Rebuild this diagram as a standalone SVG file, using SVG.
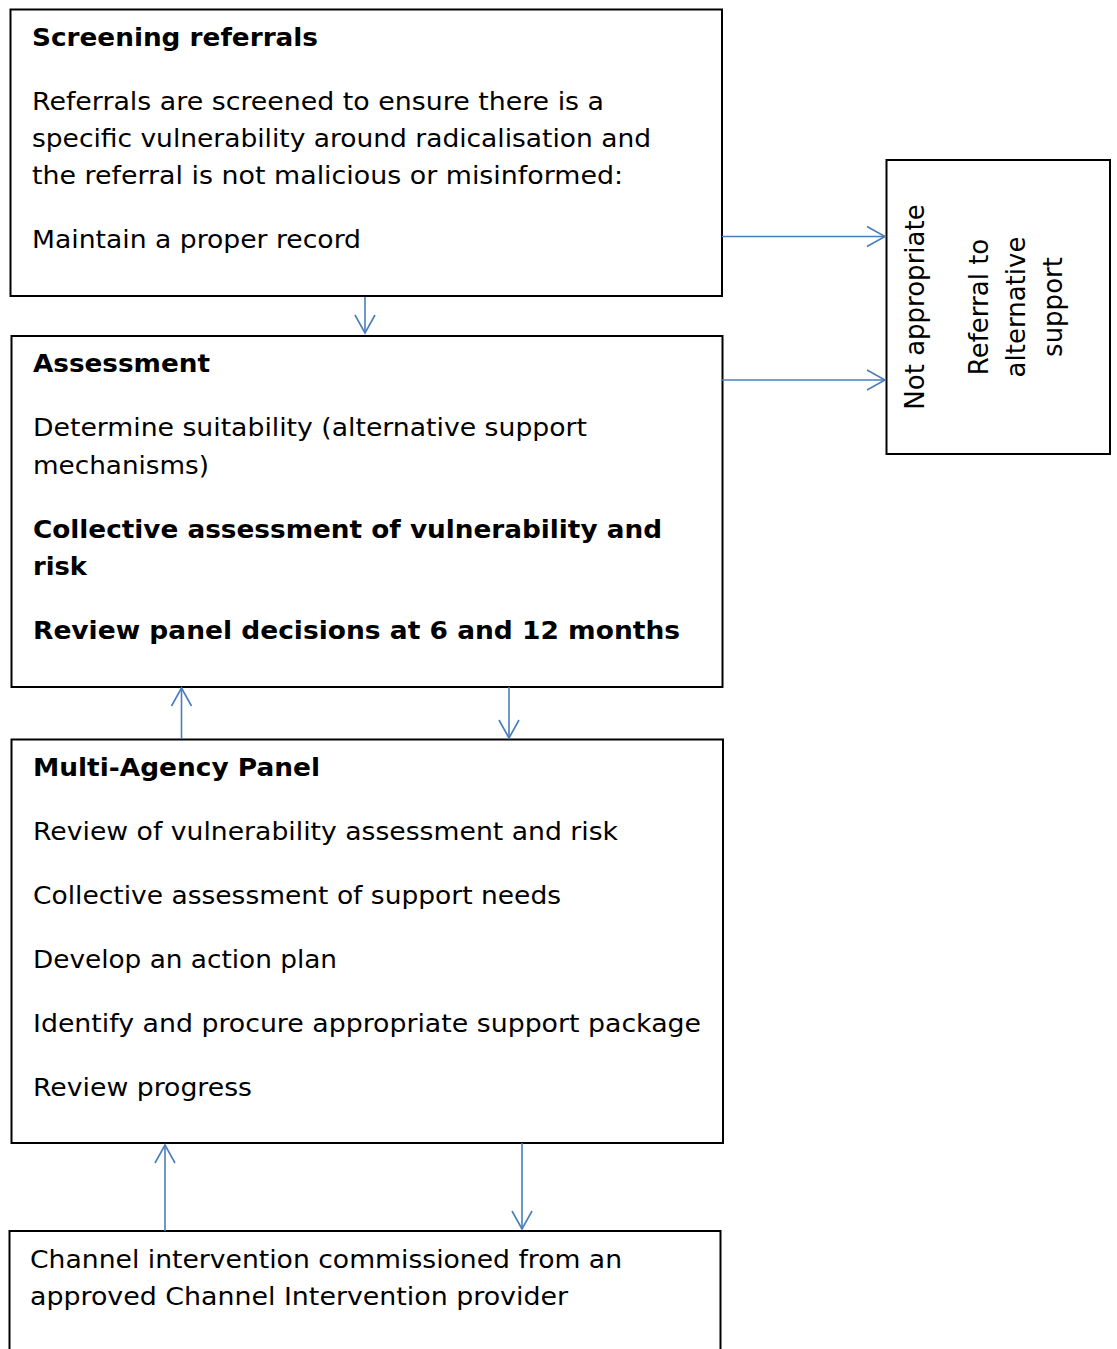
<svg xmlns="http://www.w3.org/2000/svg" width="1117" height="1349" viewBox="0 0 1117 1349">
<style>
.box{fill:#fff;stroke:#000;stroke-width:2}
.t{font-family:"DejaVu Sans","Verdana",sans-serif;font-size:24px;fill:#000}
.b{font-weight:bold}
.r{font-family:"DejaVu Sans","Verdana",sans-serif;font-size:26px;fill:#000;text-anchor:middle}
.c{fill:none;stroke:#4a7ebb;stroke-width:1.6}
</style>
<defs>
<marker id="ah" markerUnits="userSpaceOnUse" viewBox="-20 -12 22 24" refX="0" refY="0" markerWidth="22" markerHeight="24" orient="auto" overflow="visible">
<path d="M-18,-10 L0,0 L-18,10" fill="none" stroke="#4a7ebb" stroke-width="1.6"/>
</marker>
</defs>
<rect width="1117" height="1349" fill="#fff"/>
<g id="screening">
<rect class="box" x="10.5" y="9.5" width="711.5" height="286.5"/>
<text class="t b" x="32" y="46" textLength="286" lengthAdjust="spacingAndGlyphs">Screening referrals</text>
<text class="t" x="32" y="110" textLength="572" lengthAdjust="spacingAndGlyphs">Referrals are screened to ensure there is a</text>
<text class="t" x="32" y="147" textLength="619" lengthAdjust="spacingAndGlyphs">specific vulnerability around radicalisation and</text>
<text class="t" x="32" y="184" textLength="591" lengthAdjust="spacingAndGlyphs">the referral is not malicious or misinformed:</text>
<text class="t" x="32" y="248" textLength="329" lengthAdjust="spacingAndGlyphs">Maintain a proper record</text>
</g>
<g id="not-appropriate">
<rect class="box" x="886.5" y="160" width="223.5" height="294"/>
<text class="r" transform="translate(924,307) rotate(-90)">Not appropriate</text>
<text class="r" transform="translate(988,307) rotate(-90)">Referral to</text>
<text class="r" transform="translate(1025,307) rotate(-90)">alternative</text>
<text class="r" transform="translate(1062,307) rotate(-90)">support</text>
</g>
<g id="assessment">
<rect class="box" x="11.5" y="336" width="711" height="351"/>
<text class="t b" x="33" y="372" textLength="177" lengthAdjust="spacingAndGlyphs">Assessment</text>
<text class="t" x="33" y="436" textLength="554" lengthAdjust="spacingAndGlyphs">Determine suitability (alternative support</text>
<text class="t" x="33" y="474" textLength="176" lengthAdjust="spacingAndGlyphs">mechanisms)</text>
<text class="t b" x="33" y="538" textLength="629" lengthAdjust="spacingAndGlyphs">Collective assessment of vulnerability and</text>
<text class="t b" x="33" y="575" textLength="54" lengthAdjust="spacingAndGlyphs">risk</text>
<text class="t b" x="33" y="639" textLength="647" lengthAdjust="spacingAndGlyphs">Review panel decisions at 6 and 12 months</text>
</g>
<g id="multi-agency-panel">
<rect class="box" x="11.5" y="739.5" width="711.5" height="403.5"/>
<text class="t b" x="33" y="776" textLength="287" lengthAdjust="spacingAndGlyphs">Multi-Agency Panel</text>
<text class="t" x="33" y="840" textLength="585" lengthAdjust="spacingAndGlyphs">Review of vulnerability assessment and risk</text>
<text class="t" x="33" y="904" textLength="528" lengthAdjust="spacingAndGlyphs">Collective assessment of support needs</text>
<text class="t" x="33" y="968" textLength="304" lengthAdjust="spacingAndGlyphs">Develop an action plan</text>
<text class="t" x="33" y="1032" textLength="668" lengthAdjust="spacingAndGlyphs">Identify and procure appropriate support package</text>
<text class="t" x="33" y="1096" textLength="219" lengthAdjust="spacingAndGlyphs">Review progress</text>
</g>
<g id="channel-intervention">
<rect class="box" x="9.5" y="1231" width="711" height="140"/>
<text class="t" x="30" y="1268" textLength="592" lengthAdjust="spacingAndGlyphs">Channel intervention commissioned from an</text>
<text class="t" x="30" y="1305" textLength="538" lengthAdjust="spacingAndGlyphs">approved Channel Intervention provider</text>
</g>
<g id="connectors">
<line class="c" x1="722" y1="236.5" x2="885" y2="236.5" marker-end="url(#ah)"/>
<line class="c" x1="722" y1="380" x2="885" y2="380" marker-end="url(#ah)"/>
<line class="c" x1="365" y1="297" x2="365" y2="333" marker-end="url(#ah)"/>
<line class="c" x1="181.5" y1="739" x2="181.5" y2="688" marker-end="url(#ah)"/>
<line class="c" x1="509" y1="687" x2="509" y2="738" marker-end="url(#ah)"/>
<line class="c" x1="165" y1="1231" x2="165" y2="1145" marker-end="url(#ah)"/>
<line class="c" x1="522" y1="1143" x2="522" y2="1229" marker-end="url(#ah)"/>
</g>
</svg>
